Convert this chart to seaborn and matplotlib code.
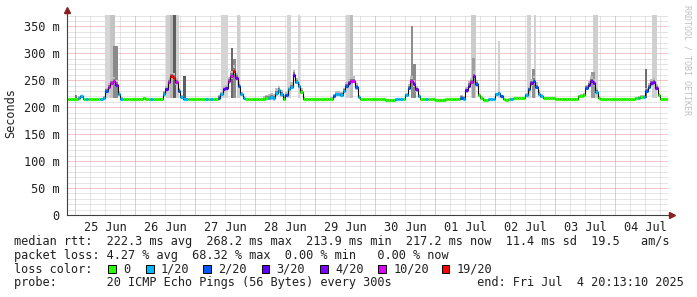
import numpy as np
import pandas as pd
import matplotlib
matplotlib.use("Agg")
import matplotlib.pyplot as plt
from matplotlib.patches import Rectangle
import seaborn as sns

# ---------------- data (hourly, hours counted from 25 Jun 00:00) ----------------
pre_24jun = [215, 215, 215, 215]
jun25 = [215, 217, 220, 215, 215, 215, 215, 215, 215, 215, 215, 217, 230, 238, 244, 248, 242, 224, 216, 215, 215, 215, 215, 215]
jun26 = [215, 215, 215, 217, 215, 215, 215, 215, 215, 215, 216, 225, 233, 247, 257, 255, 246, 230, 219, 215, 215, 215, 215, 215]
jun27 = [215, 215, 215, 215, 215, 215, 215, 215, 216, 218, 224, 233, 235, 248, 258, 268, 255, 240, 224, 217, 215, 215, 215, 215]
jun28 = [215, 215, 215, 216, 217, 218, 219, 217, 226, 231, 224, 216, 222, 233, 238, 260, 247, 240, 229, 216, 215, 215, 215, 215]
jun29 = [215, 215, 215, 215, 215, 215, 215, 220, 224, 224, 223, 230, 240, 245, 249, 249, 237, 219, 215, 215, 215, 215, 215, 215]
jun30 = [215, 215, 215, 215, 214, 214, 214, 214, 215, 215, 215, 215, 222, 236, 249, 243, 233, 220, 215, 215, 215, 215, 215, 215]
jul01 = [214, 214, 214, 214, 215, 215, 215, 215, 215, 216, 218, 216, 231, 240, 246, 258, 243, 222, 218, 214, 214, 215, 215, 215]
jul02 = [224, 226, 220, 215, 214, 215, 216, 217, 217, 217, 217, 217, 222, 233, 244, 249, 238, 225, 220, 217, 217, 217, 217, 217]
jul03 = [216, 216, 216, 216, 216, 216, 216, 216, 216, 220, 221, 223, 236, 241, 249, 244, 229, 218, 215, 215, 215, 215, 215, 215]
jul04 = [215, 215, 215, 215, 215, 215, 215, 215, 217, 218, 219, 219, 230, 238, 244, 247, 236, 222, 216, 216, 216]

# packet loss (pings lost out of 20) per hour
loss_pre = [0, 0, 0, 0]
loss_jun25 = [0, 1, 1, 0, 1, 0, 0, 0, 0, 0, 1, 1, 2, 10, 10, 10, 4, 1, 1, 0, 0, 0, 0, 0]
loss_jun26 = [0, 0, 0, 0, 0, 0, 1, 0, 0, 0, 0, 1, 3, 10, 19, 19, 10, 2, 1, 1, 1, 0, 0, 0]
loss_jun27 = [0, 0, 0, 0, 1, 0, 1, 0, 0, 2, 1, 3, 3, 10, 10, 19, 4, 2, 1, 1, 0, 0, 0, 0]
loss_jun28 = [0, 0, 0, 0, 0, 1, 1, 1, 1, 1, 1, 0, 2, 1, 1, 3, 1, 1, 0, 0, 0, 0, 0, 0]
loss_jun29 = [0, 0, 0, 0, 0, 0, 0, 2, 1, 1, 1, 1, 2, 3, 10, 10, 2, 1, 0, 0, 0, 0, 0, 0]
loss_jun30 = [0, 0, 0, 0, 0, 0, 0, 0, 1, 1, 1, 0, 1, 2, 10, 4, 4, 1, 0, 0, 1, 0, 0, 0]
loss_jul01 = [0, 0, 0, 0, 0, 0, 0, 0, 0, 0, 2, 1, 3, 3, 10, 4, 2, 0, 0, 0, 0, 1, 1, 1]
loss_jul02 = [1, 1, 2, 0, 0, 0, 1, 0, 0, 0, 0, 0, 1, 2, 4, 2, 2, 1, 1, 0, 0, 0, 0, 0]
loss_jul03 = [0, 0, 0, 0, 0, 0, 0, 0, 0, 0, 0, 0, 2, 3, 4, 4, 1, 0, 0, 0, 0, 0, 0, 0]
loss_jul04 = [0, 0, 0, 0, 0, 0, 0, 0, 0, 1, 0, 1, 2, 2, 4, 4, 4, 0, 0, 0, 0]

# smoke spread around the median (ms)
spread_pre = [1, 1, 1, 1]
spread_jun25 = [2, 3, 3, 1, 1, 1, 1, 1, 1, 1, 2, 3, 6, 6, 8, 8, 8, 6, 3, 1, 1, 1, 1, 1]
spread_jun26 = [1, 1, 1, 2, 1, 1, 1, 1, 1, 1, 2, 5, 7, 8, 8, 8, 8, 6, 4, 2, 2, 1, 1, 1]
spread_jun27 = [1, 1, 1, 1, 1, 1, 1, 1, 2, 4, 5, 6, 6, 8, 10, 10, 8, 6, 5, 3, 1, 1, 1, 1]
spread_jun28 = [1, 1, 1, 4, 6, 7, 8, 8, 9, 9, 8, 6, 6, 7, 8, 9, 8, 7, 6, 3, 1, 1, 1, 1]
spread_jun29 = [1, 1, 1, 1, 2, 3, 4, 5, 6, 6, 6, 6, 7, 8, 8, 8, 7, 4, 2, 1, 1, 1, 1, 1]
spread_jun30 = [1, 1, 1, 1, 1, 1, 1, 1, 1, 1, 1, 2, 5, 7, 8, 8, 7, 4, 2, 1, 1, 1, 1, 1]
spread_jul01 = [1, 1, 1, 1, 1, 1, 1, 1, 1, 2, 4, 5, 7, 8, 9, 9, 8, 5, 3, 1, 1, 1, 1, 1]
spread_jul02 = [3, 3, 2, 1, 1, 1, 1, 1, 1, 1, 1, 1, 4, 7, 8, 9, 8, 6, 4, 2, 1, 1, 1, 1]
spread_jul03 = [1, 1, 1, 1, 1, 1, 1, 1, 1, 2, 3, 4, 6, 7, 8, 8, 6, 3, 1, 1, 1, 1, 1, 1]
spread_jul04 = [1, 1, 1, 1, 1, 1, 1, 1, 2, 3, 3, 4, 6, 7, 8, 8, 7, 4, 2, 1, 1]

# smoke spikes: start hour, end hour, top (ms), shade
spike_start = [0.0, 11.9, 13.7, 15.2, 36.3, 37.9, 39.0, 40.3, 43.0, 58.3, 62.2, 63.2, 64.7, 84.8, 89.0,
               108.2, 110.0, 134.3, 135.0, 158.2, 158.6, 169.0, 180.8, 183.3, 182.5, 207.2, 206.3, 228.0, 230.8]
spike_end = [0.8, 13.7, 16.0, 16.9, 37.9, 39.0, 40.3, 41.5, 44.2, 61.1, 63.2, 64.2, 65.9, 86.4, 90.0,
             110.0, 111.2, 135.0, 136.1, 160.3, 160.0, 170.0, 182.4, 184.2, 184.0, 209.0, 207.8, 228.8, 232.5]
spike_top = [222, 400, 400, 314, 400, 400, 400, 400, 257, 400, 310, 290, 400, 400, 400,
             400, 400, 351, 281, 400, 292, 322, 400, 400, 270, 400, 266, 271, 400]
spike_shade = ['#777777', '#d6d6d6', '#c4c4c4', '#8a8a8a', '#cfcfcf', '#b8b8b8', '#5e5e5e', '#d0d0d0', '#5e5e5e',
               '#d4d4d4', '#6a6a6a', '#8c8c8c', '#d0d0d0', '#d4d4d4', '#d4d4d4', '#d2d2d2', '#bcbcbc', '#8e8e8e',
               '#8a8a8a', '#cccccc', '#a0a0a0', '#d0d0d0', '#d2d2d2', '#d2d2d2', '#909090', '#cfcfcf', '#9a9a9a',
               '#6e6e6e', '#d0d0d0']

loss_levels = [0, 1, 2, 3, 4, 10, 19]
loss_labels = ['0', '1/20', '2/20', '3/20', '4/20', '10/20', '19/20']
loss_palette = ['#26ff00', '#00b8ff', '#0059ff', '#5e00ff', '#7e00ff', '#dd00ff', '#ff0000']

day_labels = ['25 Jun', '26 Jun', '27 Jun', '28 Jun', '29 Jun', '30 Jun', '01 Jul', '02 Jul', '03 Jul', '04 Jul']
y_tick_values = [0, 50, 100, 150, 200, 250, 300, 350]
y_tick_labels = ['0', '50 m', '100 m', '150 m', '200 m', '250 m', '300 m', '350 m']

legend_rows = [
    'median rtt:  222.3 ms avg  268.2 ms max  213.9 ms min  217.2 ms now  11.4 ms sd  19.5   am/s',
    'packet loss: 4.27 % avg  68.32 % max  0.00 % min   0.00 % now',
    'loss color:',
    'probe:       20 ICMP Echo Pings (56 Bytes) every 300s            end: Fri Jul  4 20:13:10 2025',
]

# ---------------- assemble ----------------
median = pre_24jun + jun25 + jun26 + jun27 + jun28 + jun29 + jun30 + jul01 + jul02 + jul03 + jul04
loss = loss_pre + loss_jun25 + loss_jun26 + loss_jun27 + loss_jun28 + loss_jun29 + loss_jun30 + loss_jul01 + loss_jul02 + loss_jul03 + loss_jul04
spread = spread_pre + spread_jun25 + spread_jun26 + spread_jun27 + spread_jun28 + spread_jun29 + spread_jun30 + spread_jul01 + spread_jul02 + spread_jul03 + spread_jul04
hours = np.arange(-4, -4 + len(median))
df = pd.DataFrame({'hour': hours, 'median': median, 'loss': loss, 'spread': spread})
edges = np.append(hours, hours[-1] + 1)
med_e = np.append(df['median'].values, median[-1]).astype(float)
spr_e = np.append(df['spread'].values, spread[-1]).astype(float)

sns.set_style('white')
plt.rcParams['font.family'] = ['DejaVu Sans Mono']
FS = 8.55
TXT = '#202020'

W, H = 697, 297
fig = plt.figure(figsize=(W / 100, H / 100), dpi=100)
fig.patch.set_facecolor('white')
x0, x1, ytop, ybot = 66.5, 668.0, 14.5, 215.0
ax = fig.add_axes([x0 / W, (H - ybot) / H, (x1 - x0) / W, (ybot - ytop) / H])
ax.set_facecolor('white')
ax.set_xlim(-3.5, 237.1)
ax.set_ylim(0, 372)

# grid
dot = (0, (1, 1))
for v in range(10, 372, 10):
    if v % 50:
        ax.axhline(v, color='#cccccc', lw=0.72, ls=dot, zorder=0)
for v in range(50, 372, 50):
    ax.axhline(v, color='#e49090', lw=0.72, ls=dot, zorder=0.5)
for h in range(0, 240, 6):
    if h % 24:
        ax.axvline(h, color='#cccccc', lw=0.72, ls=dot, zorder=0)
for h in range(0, 240, 24):
    ax.axvline(h, color='#e49090', lw=0.72, ls=dot, zorder=0.5)

# spikes (lighter first)
order = sorted(range(len(spike_start)), key=lambda i: -int(spike_shade[i][1:3], 16))
for i in order:
    ax.fill_between([spike_start[i], spike_end[i]], 218, spike_top[i], color=spike_shade[i], lw=0, zorder=1)

# smoke around the median
ax.fill_between(edges, med_e - 0.6 * spr_e, med_e + spr_e, step='post', color='#bdbdbd', lw=0, zorder=2)
ax.fill_between(edges, med_e - 0.3 * spr_e, med_e + 0.5 * spr_e, step='post', color='#808080', lw=0, zorder=2.5)

# median line
step_df = pd.DataFrame({'hour': edges, 'median': med_e})
sns.lineplot(data=step_df, x='hour', y='median', drawstyle='steps-post', color='#111111', lw=0.8, ax=ax, zorder=3)
col_map = dict(zip(loss_levels, loss_palette))
ax.hlines(df['median'], df['hour'], df['hour'] + 1, colors=[col_map[l] for l in df['loss']], lw=2.3, zorder=4)

# axes
for s in ['top', 'right']:
    ax.spines[s].set_visible(False)
for s in ['left', 'bottom']:
    ax.spines[s].set_color('#404040')
    ax.spines[s].set_linewidth(0.8)
    ax.spines[s].set_zorder(6)
ax.plot([0, 0], [1, 1.025], transform=ax.transAxes, color='#404040', lw=0.8, clip_on=False)
ax.plot([1, 1.006], [0, 0], transform=ax.transAxes, color='#404040', lw=0.8, clip_on=False)
ax.plot([0], [1.02], marker='^', ms=4, color='#8b2020', transform=ax.transAxes, clip_on=False)
ax.plot([1.007], [0], marker='>', ms=4, color='#8b2020', transform=ax.transAxes, clip_on=False)

ax.set_yticks(y_tick_values)
ax.set_yticklabels(y_tick_labels)
ax.set_xticks([12 + 24 * k for k in range(len(day_labels))])
ax.set_xticklabels(day_labels)
ax.tick_params(axis='y', length=3, width=0.8, color='#404040', pad=2, labelsize=FS, labelcolor=TXT)
ax.tick_params(axis='x', length=0, pad=4.5, labelsize=FS, labelcolor=TXT)
ax.set_xlabel('')
ax.set_ylabel('')

fig.text(11 / W, 1 - 113.5 / H, 'Seconds', rotation=90, ha='center', va='center', fontsize=FS, color=TXT)
fig.text(687 / W, 1 - 60 / H, 'RRDTOOL / TOBI OETIKER', rotation=270, ha='center', va='center',
         fontsize=6.0, color='#c0c0c0')

row_y = [241.7, 255.2, 269.2, 282.7]
for txt, yy in zip(legend_rows, row_y):
    fig.text(14.4 / W, 1 - yy / H, txt, ha='left', va='center', fontsize=FS, color=TXT)

box_x = [108.3, 146.0, 203.3, 261.7, 320.0, 378.3, 441.7]
for bx, c, lab in zip(box_x, loss_palette, loss_labels):
    fig.patches.append(Rectangle((bx / W, 1 - 273.3 / H), 7.5 / W, 8.5 / H, transform=fig.transFigure,
                                 facecolor=c, edgecolor='black', lw=0.7))
    fig.text((bx + 15) / W, 1 - 269.2 / H, lab, ha='left', va='center', fontsize=FS, color=TXT)

fig.savefig('out.png', dpi=100, facecolor='white')
